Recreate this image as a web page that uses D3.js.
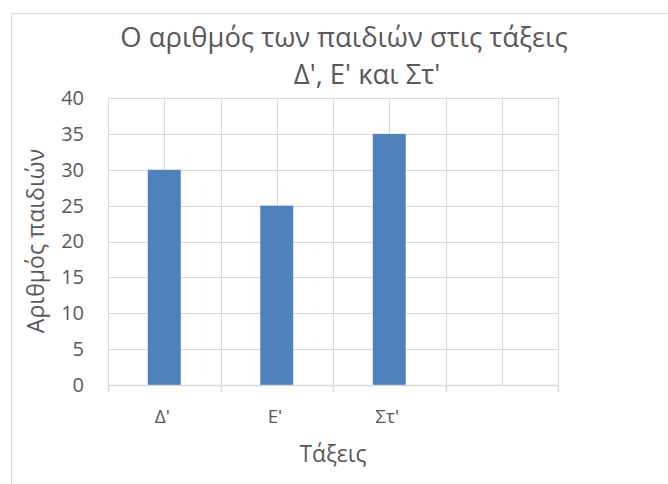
<!DOCTYPE html>
<html><head><meta charset="utf-8">
<script src="https://cdn.jsdelivr.net/npm/d3@7"></script>
<style>body{margin:0;background:#fff}text{font-family:"Open Sans",sans-serif;fill:#595959}</style>
</head><body>
<svg id="c" width="668" height="484"></svg>
<script>
// ---- data ----
const categories = ["Δ'", "Εʹ", "Στ'", ""];
const values = [30, 25, 35, null];
const yTicks = [0, 5, 10, 15, 20, 25, 30, 35, 40];
const titleLines = ["Ο αριθμός των παιδιών στις τάξεις", "Δ', Ε' και Στ'"];
const xTitle = "Τάξεις";
const yTitle = "Αριθμός παιδιών";

(function () {
const svg = d3.select("#c");
const grid = "#d9d9d9";
const barColor = "#4f81bd";

// chart frame
svg.append("rect").attr("x", 11.5).attr("y", 13.5).attr("width", 700).attr("height", 500)
  .attr("fill", "#fff").attr("stroke", grid).attr("stroke-width", 1.2);

const pL = 108, pR = 558, pT = 98, pB = 385;
const x = d3.scaleBand().domain(categories).range([pL, pR]).padding(0);
const y = d3.scaleLinear().domain([0, 40]).range([pB, pT]);

// horizontal gridlines
svg.append("g").selectAll("line").data(yTicks).join("line")
  .attr("x1", pL).attr("x2", pR)
  .attr("y1", d => Math.round(y(d)) + 0.5).attr("y2", d => Math.round(y(d)) + 0.5)
  .attr("stroke", grid).attr("stroke-width", 1);

// vertical gridlines at category boundaries and centres
const vlines = [];
categories.forEach(c => { vlines.push(x(c)); vlines.push(x(c) + x.bandwidth() / 2); });
vlines.push(pR);
svg.append("g").selectAll("line").data(vlines).join("line")
  .attr("x1", d => Math.round(d) + 0.5).attr("x2", d => Math.round(d) + 0.5)
  .attr("y1", pT).attr("y2", pB)
  .attr("stroke", grid).attr("stroke-width", 1);

// bars
const bw = x.bandwidth() * 0.293;
svg.append("g").selectAll("rect").data(categories.map((c, i) => ({c, v: values[i]})).filter(d => d.v != null))
  .join("rect")
  .attr("x", d => x(d.c) + x.bandwidth() / 2 - bw / 2)
  .attr("width", bw)
  .attr("y", d => y(d.v))
  .attr("height", d => y(0) - y(d.v))
  .attr("fill", barColor);

// x axis
const xAxis = svg.append("g").attr("transform", `translate(0,${pB})`)
  .call(d3.axisBottom(x).tickSize(0).tickPadding(0));
xAxis.attr("font-size", 19).attr("font-family", null);
xAxis.select(".domain").remove();
xAxis.selectAll("text").attr("dy", null).attr("y", 38).attr("dx", -2).attr("fill", "#595959");
// axis line + boundary tick marks
svg.append("line").attr("x1", pL).attr("x2", pR).attr("y1", pB + 0.5).attr("y2", pB + 0.5)
  .attr("stroke", grid).attr("stroke-width", 1.5);
const bounds = categories.map(c => x(c)).concat([pR]);
svg.append("g").selectAll("line").data(bounds).join("line")
  .attr("x1", d => Math.round(d) + 0.5).attr("x2", d => Math.round(d) + 0.5)
  .attr("y1", pB).attr("y2", pB + 7)
  .attr("stroke", grid).attr("stroke-width", 1.5);

// y axis labels
const yAxis = svg.append("g").attr("transform", `translate(${pL},0)`)
  .call(d3.axisLeft(y).tickValues(yTicks).tickSize(0).tickPadding(24));
yAxis.attr("font-size", 20).attr("font-family", null);
yAxis.select(".domain").remove();
yAxis.selectAll("text").attr("fill", "#595959");

// titles
svg.append("text").attr("x", 344).attr("y", 47).attr("text-anchor", "middle")
  .attr("font-size", 27.4).text(titleLines[0]);
svg.append("text").attr("x", 367).attr("y", 84).attr("text-anchor", "middle")
  .attr("font-size", 27.4).text(titleLines[1]);
svg.append("text").attr("x", 333).attr("y", 462).attr("text-anchor", "middle")
  .attr("font-size", 22.8).text(xTitle);
svg.append("text").attr("transform", "translate(44,241) rotate(-90)").attr("text-anchor", "middle")
  .attr("font-size", 23.1).text(yTitle);
})();
</script>
</body></html>
